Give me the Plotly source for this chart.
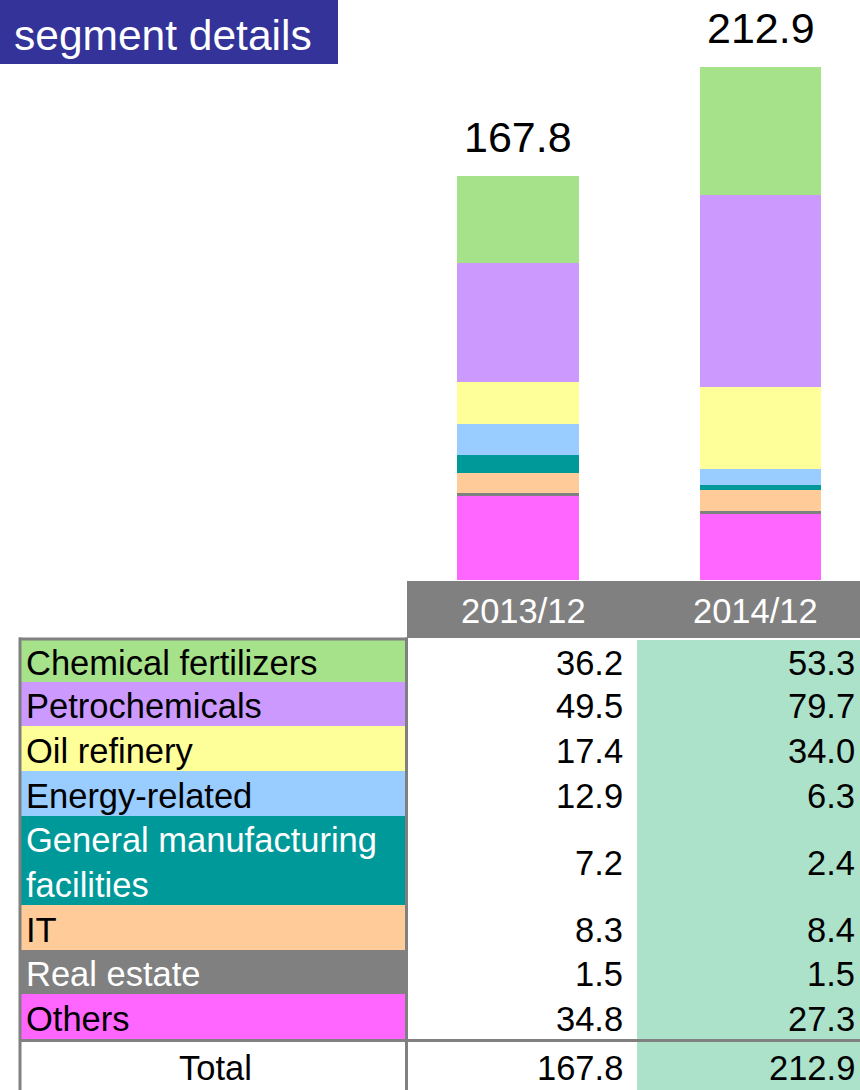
import plotly.graph_objects as go

# ---------------- data ----------------
segments = ["Chemical fertilizers", "Petrochemicals", "Oil refinery", "Energy-related",
            "General manufacturing<br>facilities", "IT", "Real estate", "Others"]
periods = ["2013/12", "2014/12"]
v2013 = [36.2, 49.5, 17.4, 12.9, 7.2, 8.3, 1.5, 34.8]
v2014 = [53.3, 79.7, 34.0, 6.3, 2.4, 8.4, 1.5, 27.3]
totals = [167.8, 212.9]
seg_colors = ["#A6E28A", "#CC99FF", "#FFFF99", "#99CCFF", "#009999", "#FFCC99", "#808080", "#FF66FF"]
label_text_colors = ["black", "black", "black", "black", "white", "black", "white", "black"]
title_text = "segment details"

# ---------------- layout helpers ----------------
W, H = 860, 1090
FONT = "Liberation Sans, Arial, sans-serif"
MINT = "#ACE1CA"
GRAY = "#808080"
TS = 34.5  # table font size


def fx(x):
    return x / W


def fy(y):
    return 1 - y / H


fig = go.Figure()

# stacked bars: bottom (Others) first
for i in reversed(range(len(segments))):
    fig.add_trace(go.Bar(
        x=periods, y=[v2013[i], v2014[i]], name=segments[i].replace("<br>", " "),
        marker=dict(color=seg_colors[i], line=dict(width=0)),
        width=0.503, hoverinfo="skip"))

base_px = 580
scale = 2.41  # px per unit
fig.update_yaxes(domain=[fy(base_px), 1], range=[0, base_px / scale], visible=False)
fig.update_xaxes(domain=[0, 1], range=[-518 / 242.5, 1 + (W - 760.5) / 242.5], visible=False)

shapes = []
annotations = []

# total labels above bars
for p, t in zip(periods, totals):
    annotations.append(dict(x=p, y=t, xref="x", yref="y", text=f"{t:.1f}", showarrow=False,
                            yanchor="middle", yshift=39, font=dict(family=FONT, size=43, color="black")))

# title box
shapes.append(dict(type="rect", xref="paper", yref="paper", x0=fx(0), x1=fx(338), y0=fy(64), y1=fy(0),
                   fillcolor="#333399", line=dict(width=0), layer="below"))
annotations.append(dict(x=fx(12), y=fy(35), xref="paper", yref="paper", text=title_text, showarrow=False,
                        xanchor="left", yanchor="middle", font=dict(family=FONT, size=42.5, color="white")))

# header row
shapes.append(dict(type="rect", xref="paper", yref="paper", x0=fx(407), x1=fx(W), y0=fy(638), y1=fy(581),
                   fillcolor=GRAY, line=dict(width=0)))
for p, cx in zip(periods, [523, 755]):
    annotations.append(dict(x=fx(cx), y=fy(611), xref="paper", yref="paper", text=p, showarrow=False,
                            xanchor="center", yanchor="middle", font=dict(family=FONT, size=TS, color="white")))

# 2014 column background
shapes.append(dict(type="rect", xref="paper", yref="paper", x0=fx(637), x1=fx(W), y0=fy(H), y1=fy(640),
                   fillcolor=MINT, line=dict(width=0), layer="below"))

# rows
bounds = [640, 682, 726, 771, 816, 905, 950, 994, 1039]
for i, seg in enumerate(segments):
    top, bot = bounds[i], bounds[i + 1]
    cy = (top + bot) / 2
    shapes.append(dict(type="rect", xref="paper", yref="paper", x0=fx(21), x1=fx(406), y0=fy(bot), y1=fy(top),
                       fillcolor=seg_colors[i], line=dict(width=0), layer="below"))
    annotations.append(dict(x=fx(24), y=fy(cy + 2), xref="paper", yref="paper", text=seg, showarrow=False,
                            xanchor="left", yanchor="middle", align="left",
                            font=dict(family=FONT, size=TS, color=label_text_colors[i])))
    for val, rx in zip([v2013[i], v2014[i]], [625, 857]):
        annotations.append(dict(x=fx(rx), y=fy(cy + 2), xref="paper", yref="paper", text=f"{val:.1f}",
                                showarrow=False, xanchor="right", yanchor="middle",
                                font=dict(family=FONT, size=TS, color="black")))

# total row
annotations.append(dict(x=fx(215), y=fy(1068), xref="paper", yref="paper", text="Total", showarrow=False,
                        xanchor="center", yanchor="middle", font=dict(family=FONT, size=TS, color="black")))
for t, rx in zip(totals, [625, 857]):
    annotations.append(dict(x=fx(rx), y=fy(1068), xref="paper", yref="paper", text=f"{t:.1f}",
                            showarrow=False, xanchor="right", yanchor="middle",
                            font=dict(family=FONT, size=TS, color="black")))

# grid lines
line = dict(color=GRAY, width=3)
shapes += [
    dict(type="line", xref="paper", yref="paper", x0=fx(20), x1=fx(20), y0=fy(H), y1=fy(637.5), line=line),
    dict(type="line", xref="paper", yref="paper", x0=fx(406.5), x1=fx(406.5), y0=fy(H), y1=fy(637.5), line=line),
    dict(type="line", xref="paper", yref="paper", x0=fx(19), x1=fx(407), y0=fy(639), y1=fy(639), line=line),
    dict(type="line", xref="paper", yref="paper", x0=fx(19), x1=fx(W), y0=fy(1040.5), y1=fy(1040.5), line=line),
]

fig.update_layout(
    barmode="stack", width=W, height=H, autosize=False,
    margin=dict(l=0, r=0, t=0, b=0), showlegend=False,
    paper_bgcolor="white", plot_bgcolor="white",
    shapes=shapes, annotations=annotations,
    font=dict(family=FONT),
)

fig.write_html(
    "out.html",
    config={"displayModeBar": False},
    post_script="document.body.style.margin='0';document.body.style.overflow='hidden';",
)
